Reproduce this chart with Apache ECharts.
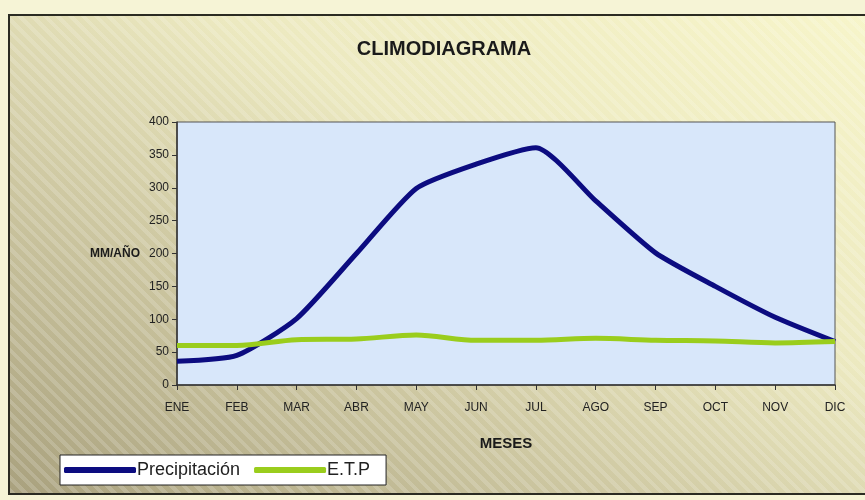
<!DOCTYPE html>
<html>
	<head>
		<meta http-equiv="Content-Type" content="text/html; charset=UTF-8">
		<title>Climodiagrama</title>
		<script type='text/javascript' src="https://cdn.jsdelivr.net/npm/echarts@6/dist/echarts.min.js"></script>
		<style>
			body { margin: 0; background: #f6f4d6; }
			#wrap { position: relative; width: 865px; height: 500px; overflow: hidden; }
			#frame {
				position: absolute; left: 8px; top: 14px; width: 870px; height: 477px;
				border-top: 2px solid #2b2b22; border-left: 2px solid #2b2b22; border-bottom: 2px solid #2b2b22;
				background:
					repeating-linear-gradient(45deg, rgba(255,255,255,0.16) 0px, rgba(255,255,255,0.16) 4px, rgba(255,255,255,0) 4px, rgba(255,255,255,0) 9px),
					linear-gradient(to top right, #a9a17e 0%, #cfc9a3 35%, #ece9c0 62%, #f7f5ca 100%);
			}
			#main { position: absolute; left: 0; top: 0; width: 865px; height: 500px; }
		</style>
	</head>
	<body>
		<div id="wrap">
			<div id="frame"></div>
			<div id="main"></div>
		</div>
		<script type='text/javascript'>
			var meses = ['ENE', 'FEB', 'MAR', 'ABR', 'MAY', 'JUN', 'JUL', 'AGO', 'SEP', 'OCT', 'NOV', 'DIC'];
			var precipitacion = [36, 45, 101, 200, 299, 336, 361, 280, 201, 150, 103, 66];
			var etp = [60, 60, 69, 70, 76, 68, 68, 71, 68, 67, 64, 66];

			var fuente = "'Liberation Sans', Arial, sans-serif";
			var chart = echarts.init(document.getElementById('main'));
			chart.setOption({
				backgroundColor: 'transparent',
				title: {
					text: 'CLIMODIAGRAMA',
					left: 439, top: 34, textAlign: 'center',
					textStyle: { fontSize: 20, fontWeight: 'bold', color: '#1a1a1a', fontFamily: fuente }
				},
				legend: {
					left: 60, top: 455,
					backgroundColor: '#fff', borderColor: '#222', borderWidth: 1,
					padding: [6, 16, 6, 4],
					itemWidth: 72, itemHeight: 6, itemGap: 14,
					icon: 'roundRect',
					textStyle: { fontSize: 18, color: '#222', fontFamily: fuente, padding: [0, 0, 0, -4] },
					data: ['Precipitación', 'E.T.P']
				},
				grid: {
					left: 177, right: 30, top: 122, bottom: 115,
					show: true, backgroundColor: '#d8e7fa', borderColor: '#555', borderWidth: 1
				},
				xAxis: {
					type: 'category', data: meses, boundaryGap: false,
					name: 'MESES', nameLocation: 'middle', nameGap: 51,
					nameTextStyle: { fontSize: 15, fontWeight: 'bold', color: '#1a1a1a', fontFamily: fuente },
					axisLine: { lineStyle: { color: '#333', width: 1.5 } },
					axisTick: { alignWithLabel: true, length: 5, lineStyle: { color: '#333' } },
					axisLabel: { margin: 17, fontSize: 12, color: '#222', fontFamily: fuente },
					splitLine: { show: false }
				},
				yAxis: {
					type: 'value', min: 0, max: 400, interval: 50,
					name: 'MM/AÑO', nameLocation: 'middle', nameRotate: 0, nameGap: 37,
					nameTextStyle: { fontSize: 12, fontWeight: 'bold', color: '#1a1a1a', fontFamily: fuente },
					axisLine: { show: true, lineStyle: { color: '#333', width: 1.5 } },
					axisTick: { show: true, length: 5, lineStyle: { color: '#333' } },
					axisLabel: { margin: 8, fontSize: 12, color: '#222', fontFamily: fuente },
					splitLine: { show: false }
				},
				series: [
					{
						name: 'Precipitación', type: 'line', data: precipitacion,
						smooth: 0.2, showSymbol: false, symbol: 'none',
						lineStyle: { color: '#0c0c80', width: 5 }, itemStyle: { color: '#0c0c80' }
					},
					{
						name: 'E.T.P', type: 'line', data: etp,
						smooth: 0.3, showSymbol: false, symbol: 'none',
						lineStyle: { color: '#9acd1c', width: 5 }, itemStyle: { color: '#9acd1c' }
					}
				]
			});
		</script>
	</body>
</html>
